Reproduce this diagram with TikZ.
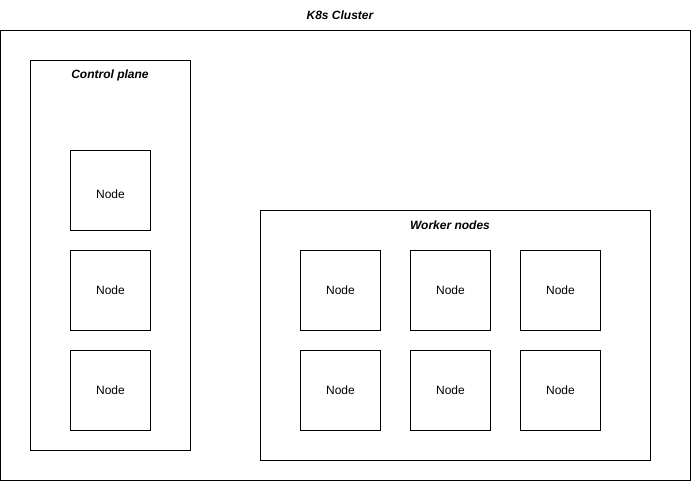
\documentclass[tikz,border=0pt]{standalone}
\usepackage{fontspec}
\setmainfont{Liberation Sans}
\usetikzlibrary{positioning}
\tikzset{
  frame/.style={draw, line width=1pt, inner sep=0pt},
  nodebox/.style={frame, minimum width=80pt, minimum height=80pt,
       font=\fontsize{12}{14}\selectfont},
  title/.style={font=\fontsize{12}{14}\selectfont\bfseries\itshape}
}

\begin{document}
\begin{tikzpicture}[x=1pt,y=-1pt]
\useasboundingbox (0,0) rectangle (691,481);

\node[frame, minimum width=690pt, minimum height=450pt] (cluster) at (345.5, 255.5) {};
\node[title] (clustertitle) at (340, 15) {K8s Cluster};

\node[frame, minimum width=160pt, minimum height=390pt] (control) at (110.5, 255.5) {};
\node[title] (controltitle) at (110, 75) {Control plane};
\node[nodebox, label={[font=\fontsize{12}{14}\selectfont, yshift=-4pt]center:Node}] (cp1) at (110.5, 190.5) {};
\node[nodebox] (cp2) at (110.5, 290.5) {Node};
\node[nodebox] (cp3) at (110.5, 390.5) {Node};

\node[frame, minimum width=390pt, minimum height=250pt] (workers) at (455.5, 335.5) {};
\node[title] (workerstitle) at (450, 225) {Worker nodes};
\node[nodebox] (w1) at (340.5, 290.5) {Node};
\node[nodebox] (w2) at (450.5, 290.5) {Node};
\node[nodebox] (w3) at (560.5, 290.5) {Node};
\node[nodebox] (w4) at (340.5, 390.5) {Node};
\node[nodebox] (w5) at (450.5, 390.5) {Node};
\node[nodebox] (w6) at (560.5, 390.5) {Node};
\end{tikzpicture}
\end{document}
